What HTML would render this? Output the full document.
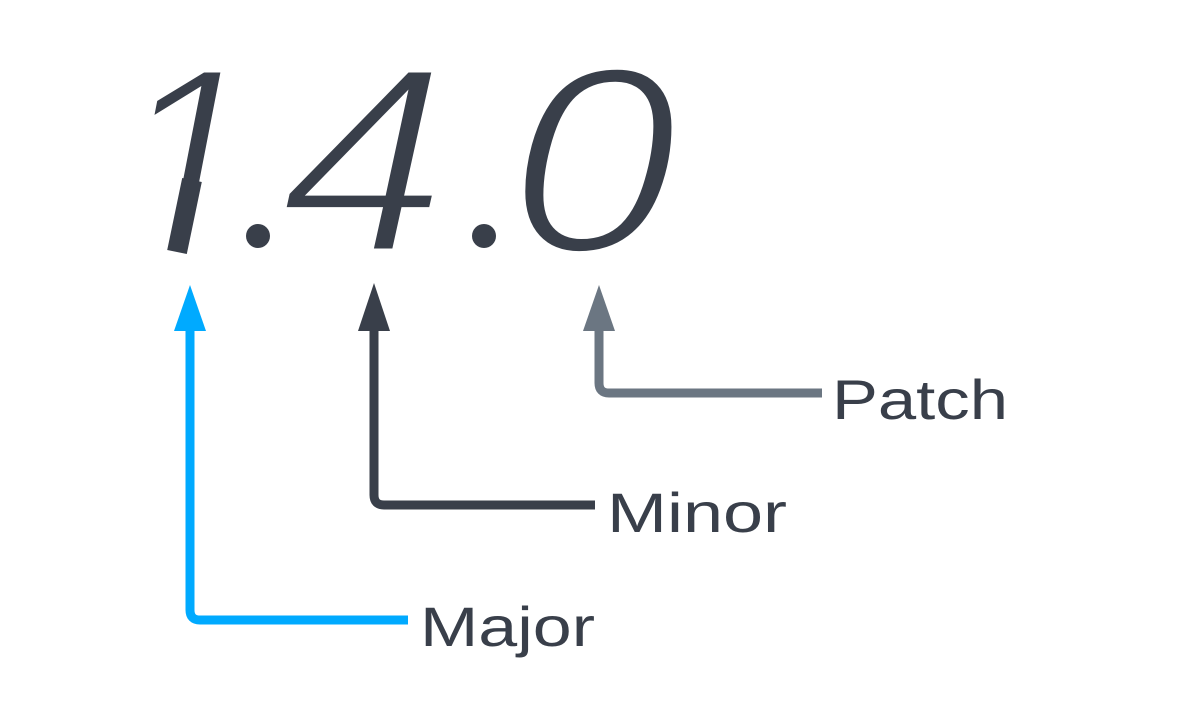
<!DOCTYPE html>
<html><head><meta charset="utf-8"><style>
html,body{margin:0;padding:0;background:#fff;width:1187px;height:716px;overflow:hidden}
</style></head><body>
<svg width="1187" height="716" viewBox="0 0 1187 716" xmlns="http://www.w3.org/2000/svg">
<g font-family="Liberation Sans, sans-serif" font-style="italic" fill="#393f4a" font-size="266" stroke="#fff" stroke-width="7">
<text x="112" y="252">1</text>
<text x="280" y="252" textLength="168" lengthAdjust="spacingAndGlyphs">4</text>
<text x="508" y="252" textLength="170" lengthAdjust="spacingAndGlyphs">0</text>
</g>
<rect x="100" y="190" width="140" height="68" fill="#fff"/>
<line x1="192" y1="180" x2="177" y2="252" stroke="#393f4a" stroke-width="20"/>
<circle cx="258" cy="236" r="12" fill="#393f4a"/>
<circle cx="484" cy="236" r="12" fill="#393f4a"/>
<g fill="none" stroke-width="9" stroke-linecap="butt" stroke-linejoin="round">
<path d="M190 325 V610 Q190 620 200 620 H408" stroke="#00aaff"/>
<path d="M374 325 V495 Q374 505 384 505 H595" stroke="#393f4a"/>
<path d="M599 325 V383 Q599 393 609 393 H822" stroke="#6b7682"/>
</g>
<polygon points="190,285 174,331 206,331" fill="#00aaff"/>
<polygon points="374,283 358,331 390,331" fill="#393f4a"/>
<polygon points="599,285 583,331 615,331" fill="#6b7682"/>
<g font-family="Liberation Sans, sans-serif" font-size="56" fill="#393f4a">
<text x="832" y="419" textLength="176" lengthAdjust="spacingAndGlyphs">Patch</text>
<text x="607" y="532" textLength="180" lengthAdjust="spacingAndGlyphs">Minor</text>
<text x="420" y="646" textLength="175" lengthAdjust="spacingAndGlyphs">Major</text>
</g>
</svg>
</body></html>
